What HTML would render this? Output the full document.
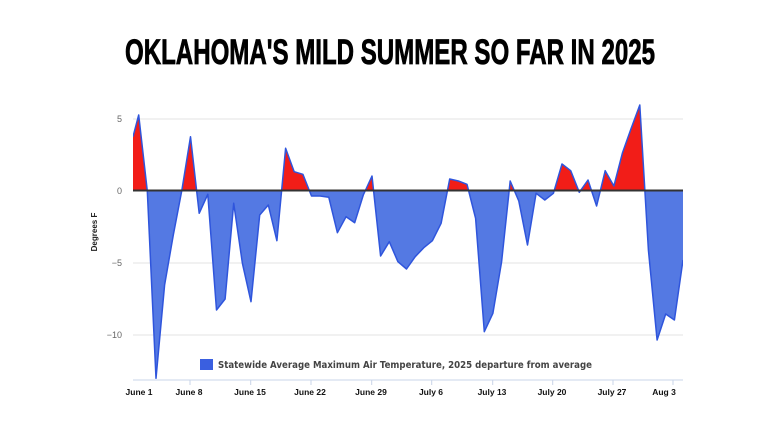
<!DOCTYPE html>
<html><head><meta charset="utf-8"><style>
html,body{margin:0;padding:0;background:#fff;width:780px;height:427px;overflow:hidden}
svg{display:block}
</style></head><body>
<svg id="s" width="780" height="427" xmlns="http://www.w3.org/2000/svg" font-family="Liberation Sans, sans-serif">
<text x="390" y="64" text-anchor="middle" font-family="Liberation Sans Narrow, Liberation Sans, sans-serif" font-weight="bold" font-size="35" textLength="530" lengthAdjust="spacingAndGlyphs" fill="#000" stroke="#000" stroke-width="0.8">OKLAHOMA'S MILD SUMMER SO FAR IN 2025</text>
<line x1="133" y1="119" x2="683" y2="119" stroke="#e3e3e3"/>
<line x1="133" y1="263" x2="683" y2="263" stroke="#e3e3e3"/>
<line x1="133" y1="335" x2="683" y2="335" stroke="#e3e3e3"/>
<g font-size="9" fill="#666" text-anchor="end">
<text x="122" y="122">5</text><text x="122" y="194">0</text><text x="122" y="266">−5</text><text x="122" y="338">−10</text>
</g>
<text transform="translate(97,232) rotate(-90)" text-anchor="middle" font-size="8" font-weight="bold" fill="#222">Degrees F</text>
<defs>
<clipPath id="top"><rect x="0" y="0" width="780" height="191"/></clipPath>
<clipPath id="bot"><rect x="0" y="191" width="780" height="200"/></clipPath>
</defs>
<g id="area"></g>
<line x1="133" y1="190.5" x2="683" y2="190.5" stroke="#333" stroke-width="2"/>
<line x1="133" y1="380" x2="683" y2="380" stroke="#c8d4e8"/>
<g id="ticks" stroke="#c8d4e8"></g>
<g font-size="8.5" font-weight="bold" fill="#111" text-anchor="middle">
<text x="139" y="395">June 1</text><text x="189" y="395">June 8</text><text x="250" y="395">June 15</text><text x="310" y="395">June 22</text><text x="371" y="395">June 29</text><text x="431" y="395">July 6</text><text x="492" y="395">July 13</text><text x="552" y="395">July 20</text><text x="612" y="395">July 27</text><text x="664" y="395">Aug 3</text>
</g>
<rect x="200" y="359" width="13" height="11" fill="#3a5fe0"/>
<text x="218" y="368" font-size="9.5" font-weight="bold" fill="#444" font-family="DejaVu Sans, sans-serif" textLength="374" lengthAdjust="spacingAndGlyphs">Statewide Average Maximum Air Temperature, 2025 departure from average</text>
</svg>
<script>
var zy=[60,288,850,570,420,285,125,355,298,645,612,325,505,620,360,330,437,160,230,238,303,303,307,413,365,383,300,243,483,440,500,522,485,458,437,385,252,258,268,370,710,655,500,258,318,450,295,315,295,207,227,292,255,333,227,273,173,100,30,465,735,657,675,495];
var pts=[[133,95+125/3]];
var step=(683-138.7)/63;
zy.forEach(function(v,i){pts.push([138.7+i*step,Math.min(95+v/3,380)]);});
var line=pts.map(function(p,i){return (i?'L':'M')+p[0].toFixed(1)+' '+p[1].toFixed(1);}).join(' ');
var fill=line+' L683 191 L133 191 Z';
var ns='http://www.w3.org/2000/svg';
var g=document.getElementById('area');
function add(tag,attrs){var e=document.createElementNS(ns,tag);for(var k in attrs)e.setAttribute(k,attrs[k]);g.appendChild(e);return e;}
var cp=document.createElementNS(ns,'clipPath');cp.id='plot';var r=document.createElementNS(ns,'rect');r.setAttribute('x',133);r.setAttribute('y',80);r.setAttribute('width',550);r.setAttribute('height',300);cp.appendChild(r);document.querySelector('defs').appendChild(cp);
g.setAttribute('clip-path','url(#plot)');
add('path',{d:fill,fill:'#f21d18','clip-path':'url(#top)'});
add('path',{d:fill,fill:'#5479e3','clip-path':'url(#bot)'});
add('path',{d:line,fill:'none',stroke:'#2f55dc','stroke-width':1.5,'stroke-linejoin':'round'});
var t=document.getElementById('ticks');
[190,250.7,311,371.7,431.7,492.7,552.7,613,673].forEach(function(x){var l=document.createElementNS(ns,'line');l.setAttribute('x1',x);l.setAttribute('x2',x);l.setAttribute('y1',380);l.setAttribute('y2',385);t.appendChild(l);});
</script>
</body></html>
